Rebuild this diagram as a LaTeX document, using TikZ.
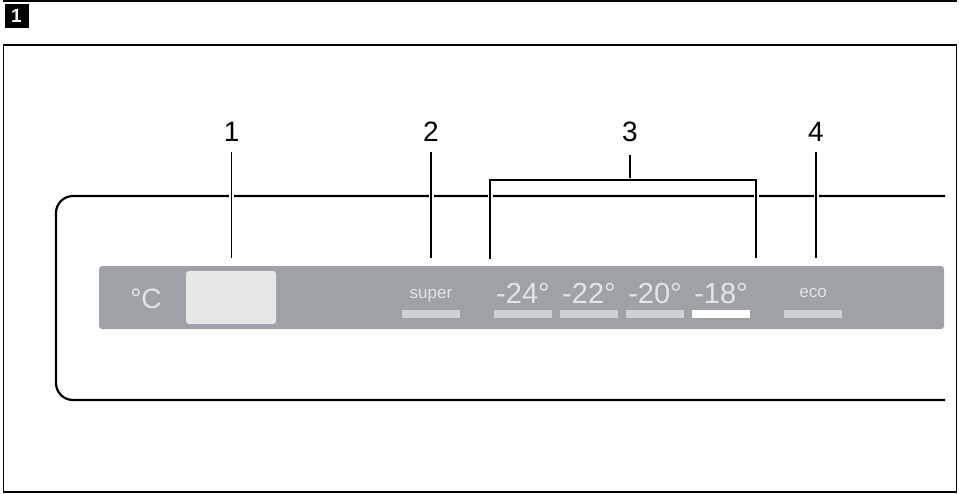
\documentclass[tikz,border=0pt]{standalone}
\usepackage{fontspec}
\setmainfont{Liberation Sans}
\definecolor{barGrey}{HTML}{9CA2A5}
\definecolor{dispCol}{HTML}{E6E7E7}
\definecolor{txtCol}{HTML}{E2E5E6}
\definecolor{keyCol}{HTML}{CFD1D2}
\begin{document}
\begin{tikzpicture}[x=1pt,y=-1pt,
  lbl/.style={font=\fontsize{28}{28}\selectfont, anchor=base, inner sep=0pt},
  temp/.style={font=\fontsize{29}{29}\selectfont, anchor=base, inner sep=0pt, text=txtCol},
  small/.style={font=\fontsize{17}{17}\selectfont, anchor=base, inner sep=0pt, text=txtCol},
  leader/.style={line width=1.2pt, preaction={draw=white, line width=5pt}},
  keybar/.style={fill=keyCol},
  frame/.style={line width=1.3pt}]
\useasboundingbox (0,0) rectangle (959,493);
% previous frame bottom
\draw[frame] (3.5,-5) -- (3.5,1) -- (956.5,1) -- (956.5,-5);
% badge
\node[fill=black, minimum size=24pt, inner sep=0pt, text=white,
      font=\bfseries\fontsize{19}{19}\selectfont] (badge) at (16.5,16) {1};
% outer frame
\draw[frame] (3.5,45) rectangle (956.5,492);
% panel outline
\draw[line width=2.2pt, rounded corners=17pt] (945,196) -- (56,196) -- (56,400) -- (945,400);
% grey bar
\fill[barGrey, rounded corners=3pt] (99,266) rectangle (944,329);
\fill[dispCol, rounded corners=3pt] (186,271) rectangle (276,324);
\node[font=\fontsize{28}{28}\selectfont, anchor=base, inner sep=0pt, text=txtCol] (degc) at (146,308) {°C};
% key texts
\node[small] (super) at (431,298.3) {super};
\node[temp] (t24) at (523,303.3) {-24°};
\node[temp] (t22) at (589,303.3) {-22°};
\node[temp] (t20) at (655,303.3) {-20°};
\node[temp] (t18) at (721,303.3) {-18°};
\node[small] (eco) at (813,297.7) {eco};
% key bars
\fill[keybar] (402,310) rectangle (460,317.7);
\fill[keybar] (494,310) rectangle (552,317.7);
\fill[keybar] (560,310) rectangle (618,317.7);
\fill[keybar] (626,310) rectangle (684,317.7);
\fill[white]  (692,310) rectangle (750,317.7);
\fill[keybar] (784,310) rectangle (842,317.7);
% labels
\node[lbl] (l1) at (231.7,141.7) {1};
\node[lbl] (l2) at (431,141.7) {2};
\node[lbl] (l3) at (630,141.7) {3};
\node[lbl] (l4) at (816,141.7) {4};
\coordinate (e1) at (231.7,258);
\coordinate (e2) at (431,258);
\coordinate (e4) at (816,258);
\coordinate (b3) at (630,180);
\coordinate (bl) at (490,180);
\coordinate (br) at (756,180);
\coordinate (bl2) at (490,259);
\coordinate (br2) at (756,258);
% leaders
\draw[leader] ([yshift=-10pt]l1.south) -- (e1);
\draw[leader] ([yshift=-10pt]l2.south) -- (e2);
\draw[leader] ([yshift=-10pt]l4.south) -- (e4);
\draw[line width=1.2pt] ([yshift=-13pt]l3.south) -- (b3);
\draw[leader] (bl2) -- (bl) -- (br) -- (br2);
\end{tikzpicture}
\end{document}
